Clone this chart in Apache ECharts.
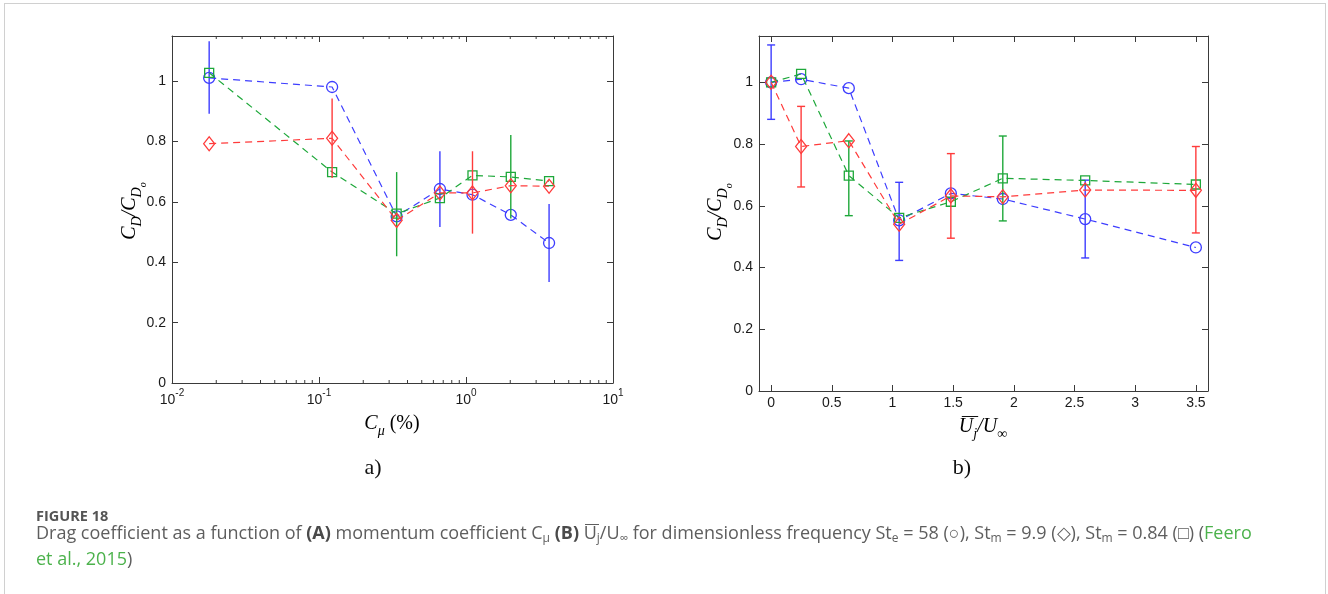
<!DOCTYPE html>
<html><head><meta charset="utf-8">
<script src="https://cdn.jsdelivr.net/npm/echarts@6/dist/echarts.min.js"></script>
<style>
html,body{margin:0;padding:0;background:#fff;}
#wrap{position:relative;width:1328px;height:594px;overflow:hidden;}
#frame{position:absolute;left:4px;top:3px;width:1322px;height:660px;border:1px solid #d0d0d0;box-sizing:border-box;}
#chart{position:absolute;left:0;top:0;width:1328px;height:594px;}
.cap{position:absolute;left:36px;font-family:'Open Sans',sans-serif;color:#5e5e5e;white-space:nowrap;}
.cap sub{font-size:12px;line-height:0;vertical-align:-3px;}
.cap b{color:#4a4a4a;}
.g{color:#4cb24c;}
.ov{position:relative;}
.ov::before{content:'';position:absolute;left:1px;right:1px;top:4px;border-top:1px solid #5e5e5e;}
</style></head>
<body>
<div id="wrap">
<div id="frame"></div>
<div id="chart"></div>
<div class="cap" id="fig" style="top:507px;font-size:14.5px;line-height:17px;font-weight:700;color:#555;">FIGURE 18</div>
<div class="cap" id="capt" style="top:519px;font-size:18px;line-height:26px;">Drag coefficient as a function of <b>(A)</b> momentum coefficient C<sub>μ</sub> <b>(B)</b> <span class="ov">U<sub>j</sub></span>/U<sub>∞</sub> for dimensionless frequency St<sub>e</sub> = 58 (○), St<sub>m</sub> = 9.9 (◇), St<sub>m</sub> = 0.84 (□) (<span class="g">Feero</span><br><span class="g">et al., 2015</span>)</div>
</div>
<script>
// ---------- Panel (a): C_mu (%) on log axis ----------
const cmuX   = [0.0179, 0.1228, 0.3375, 0.6645, 1.107, 2.017, 3.674];
const aBlue  = [1.011, 0.981, 0.552, 0.643, 0.624, 0.557, 0.464];
const aRed   = [0.793, 0.811, 0.539, 0.630, 0.630, 0.654, 0.652];
const aGreen = [1.028, 0.699, 0.561, 0.613, 0.688, 0.683, 0.669];
// error bars: [x, low, high]
const aBlueErr  = [[0.0179, 0.892, 1.133], [0.6645, 0.517, 0.768], [3.674, 0.335, 0.593]];
const aRedErr   = [[0.1228, 0.679, 0.943], [1.107, 0.495, 0.768]];
const aGreenErr = [[0.3375, 0.420, 0.699], [2.017, 0.545, 0.822]];
const aMinorTicks = [0.02,0.03,0.04,0.05,0.06,0.07,0.08,0.09,0.2,0.3,0.4,0.5,0.6,0.7,0.8,0.9,2,3,4,5,6,7,8,9];

// ---------- Panel (b): Uj/Uinf ----------
const ujX    = [0, 0.247, 0.640, 1.055, 1.481, 1.909, 2.588, 3.5];
const bBlue  = [1.0, 1.010, 0.981, 0.553, 0.640, 0.622, 0.557, 0.465];
const bRed   = [1.0, 0.792, 0.811, 0.540, 0.632, 0.629, 0.651, 0.650];
const bGreen = [1.0, 1.027, 0.698, 0.561, 0.613, 0.689, 0.682, 0.669];
const bBlueErr  = [[0, 0.880, 1.121], [1.055, 0.423, 0.676], [2.588, 0.431, 0.683]];
const bRedErr   = [[0.247, 0.661, 0.922], [1.481, 0.495, 0.769], [3.5, 0.512, 0.792]];
const bGreenErr = [[0.640, 0.568, 0.810], [1.909, 0.551, 0.826]];
const ujTicks = [0, 0.5, 1, 1.5, 2, 2.5, 3, 3.5];
const yTicksMax = 1.15;

const BLUE = '#3d3dff', RED = '#ff3b3b', GREEN = '#1ea83a';
const AX = '#3a3a3a';
const TF = 'Liberation Sans, Arial, sans-serif';
const SERIF = 'Liberation Serif, Times New Roman, serif';

const chart = echarts.init(document.getElementById('chart'), null, {renderer: 'canvas'});

function yAx(grid, pos, showLabel) {
  return {
    gridIndex: grid, type: 'value', min: 0, max: yTicksMax, interval: 0.2, position: pos,
    axisLine: {show: true, onZero: false, lineStyle: {color: AX, width: 1}},
    axisTick: {show: true, inside: true, length: 6, lineStyle: {color: AX}},
    axisLabel: {show: showLabel, margin: 6, showMaxLabel: false, fontFamily: TF, fontSize: 14, color: '#1a1a1a',
      formatter: v => String(+v.toFixed(2))},
    splitLine: {show: false}
  };
}
function lineSeries(xs, ys, color, symbol, size, xi, yi, z) {
  return {
    type: 'line', xAxisIndex: xi, yAxisIndex: yi, z: z,
    data: xs.map((x, i) => [x, ys[i]]),
    symbol: symbol, symbolSize: size, showAllSymbol: true,
    lineStyle: {color: color, width: 1.2, type: [7, 5]},
    itemStyle: {color: 'rgba(0,0,0,0)', borderColor: color, borderWidth: 1.3},
    emphasis: {disabled: true}, silent: true, animation: false
  };
}
function errSeries(data, color, xi, yi, z, cap) {
  return {
    type: 'custom', xAxisIndex: xi, yAxisIndex: yi, z: z, silent: true, animation: false,
    data: data, encode: {x: 0, y: [1, 2]},
    renderItem: function (params, api) {
      const x = api.value(0), lo = api.value(1), hi = api.value(2);
      const p1 = api.coord([x, lo]), p2 = api.coord([x, hi]);
      const st = {stroke: color, lineWidth: 1.4};
      const ch = [{type: 'line', shape: {x1: p1[0], y1: p1[1], x2: p2[0], y2: p2[1]}, style: st}];
      if (cap) {
        ch.push({type: 'line', shape: {x1: p1[0] - cap, y1: p1[1], x2: p1[0] + cap, y2: p1[1]}, style: st});
        ch.push({type: 'line', shape: {x1: p2[0] - cap, y1: p2[1], x2: p2[0] + cap, y2: p2[1]}, style: st});
      }
      return {type: 'group', children: ch};
    }
  };
}

const supRich = {
  b: {fontFamily: TF, fontSize: 14, color: '#1a1a1a', lineHeight: 26, verticalAlign: 'top', padding: [6, 0, 0, 0]},
  s: {fontFamily: TF, fontSize: 10, color: '#1a1a1a', lineHeight: 14, verticalAlign: 'top', padding: [1, 0, 0, 0]}
};

const mathRich = {
  c: {fontFamily: SERIF, fontStyle: 'italic', fontSize: 20, color: '#111', lineHeight: 22, verticalAlign: 'top'},
  r: {fontFamily: SERIF, fontSize: 20, color: '#111', lineHeight: 22, verticalAlign: 'top'},
  d: {fontFamily: SERIF, fontStyle: 'italic', fontSize: 14, color: '#111', lineHeight: 16, verticalAlign: 'top', padding: [10, 0, 0, 0]},
  u: {fontFamily: SERIF, fontSize: 14, color: '#111', lineHeight: 16, verticalAlign: 'top', padding: [10, 0, 0, 0]},
  o: {fontFamily: SERIF, fontStyle: 'italic', fontSize: 10, color: '#111', lineHeight: 12, verticalAlign: 'top', padding: [18, 0, 0, 0]}
};

// overline position for U_j
function tw(t, f) { const c = document.createElement('canvas').getContext('2d'); c.font = f; return c.measureText(t).width; }
const wU = tw('U', 'italic 20px "Liberation Serif"');
const wj = tw('j', 'italic 14px "Liberation Serif"');
const wSl = tw('/U', 'italic 20px "Liberation Serif"');
const wInf = tw('∞', '14px "Liberation Serif"');
const bCx = 983, tot = wU + wj + wSl + wInf, bStart = bCx - tot / 2;

const option = {
  animation: false,
  grid: [
    {left: 172, top: 36, width: 441, height: 347},
    {left: 759, top: 36, width: 449, height: 355}
  ],
  xAxis: [
    {gridIndex: 0, type: 'log', logBase: 10, min: 0.01, max: 10, position: 'bottom',
      axisLine: {show: true, onZero: false, lineStyle: {color: AX}},
      axisTick: {show: true, inside: true, length: 6, lineStyle: {color: AX}},
      axisLabel: {margin: 4, formatter: v => '{b|10}{s|' + Math.round(Math.log10(v)) + '}', rich: supRich},
      splitLine: {show: false}, minorTick: {show: false}},
    {gridIndex: 0, type: 'log', logBase: 10, min: 0.01, max: 10, position: 'top',
      axisLine: {show: true, onZero: false, lineStyle: {color: AX}},
      axisTick: {show: true, inside: true, length: 6, lineStyle: {color: AX}},
      axisLabel: {show: false}, splitLine: {show: false}},
    {gridIndex: 1, type: 'value', min: -0.1, max: 3.6, position: 'bottom',
      axisLine: {show: true, onZero: false, lineStyle: {color: AX}},
      axisTick: {show: true, inside: true, length: 6, lineStyle: {color: AX}, customValues: ujTicks},
      axisLabel: {margin: 5, fontFamily: TF, fontSize: 14, color: '#1a1a1a', customValues: ujTicks},
      splitLine: {show: false}},
    {gridIndex: 1, type: 'value', min: -0.1, max: 3.6, position: 'top',
      axisLine: {show: true, onZero: false, lineStyle: {color: AX}},
      axisTick: {show: true, inside: true, length: 6, lineStyle: {color: AX}, customValues: ujTicks},
      axisLabel: {show: false}, splitLine: {show: false}}
  ],
  yAxis: [yAx(0, 'left', true), yAx(0, 'right', false), yAx(1, 'left', true), yAx(1, 'right', false)],
  series: [
    // minor ticks of the log axis
    {type: 'custom', xAxisIndex: 0, yAxisIndex: 0, silent: true, animation: false, z: 1,
      data: aMinorTicks.map(v => [v, 0]), encode: {x: 0, y: 1},
      renderItem: function (params, api) {
        const v = api.value(0);
        const b = api.coord([v, 0]), t = api.coord([v, yTicksMax]);
        const st = {stroke: AX, lineWidth: 1};
        return {type: 'group', children: [
          {type: 'line', shape: {x1: b[0], y1: b[1], x2: b[0], y2: b[1] - 3}, style: st},
          {type: 'line', shape: {x1: t[0], y1: t[1], x2: t[0], y2: t[1] + 3}, style: st}
        ]};
      }},
    errSeries(aBlueErr, BLUE, 0, 0, 2, 0),
    lineSeries(cmuX, aBlue, BLUE, 'circle', 11, 0, 0, 2),
    errSeries(aGreenErr, GREEN, 0, 0, 3, 0),
    lineSeries(cmuX, aGreen, GREEN, 'rect', 9, 0, 0, 3),
    errSeries(aRedErr, RED, 0, 0, 4, 0),
    lineSeries(cmuX, aRed, RED, 'diamond', [11, 14], 0, 0, 4),

    errSeries(bBlueErr, BLUE, 2, 2, 2, 4),
    lineSeries(ujX, bBlue, BLUE, 'circle', 11, 2, 2, 2),
    errSeries(bGreenErr, GREEN, 2, 2, 3, 4),
    lineSeries(ujX, bGreen, GREEN, 'rect', 9, 2, 2, 3),
    errSeries(bRedErr, RED, 2, 2, 4, 4),
    lineSeries(ujX, bRed, RED, 'diamond', [11, 14], 2, 2, 4)
  ],
  graphic: [
    {type: 'text', x: 120, y: 211, rotation: Math.PI / 2, silent: true,
      style: {text: '{c|C}{d|D}{c|/C}{d|D}{o|o}', rich: mathRich, align: 'center', verticalAlign: 'top'}},
    {type: 'text', x: 706, y: 212, rotation: Math.PI / 2, silent: true,
      style: {text: '{c|C}{d|D}{c|/C}{d|D}{o|o}', rich: mathRich, align: 'center', verticalAlign: 'top'}},
    {type: 'text', x: 392, y: 414, silent: true,
      style: {text: '{c|C}{d|μ}{r| (%)}', rich: mathRich, align: 'center', verticalAlign: 'top'}},
    {type: 'text', x: bCx, y: 417, silent: true,
      style: {text: '{c|U}{d|j}{c|/U}{u|∞}', rich: mathRich, align: 'center', verticalAlign: 'top'}},
    {type: 'line', silent: true, shape: {x1: bStart + 3, y1: 416.5, x2: bStart + wU + wj + 1, y2: 416.5},
      style: {stroke: '#111', lineWidth: 1}},
    {type: 'text', x: 373, y: 468, silent: true,
      style: {text: 'a)', fontFamily: SERIF, fontSize: 22, fill: '#111', align: 'center', verticalAlign: 'middle'}},
    {type: 'text', x: 962, y: 468, silent: true,
      style: {text: 'b)', fontFamily: SERIF, fontSize: 22, fill: '#111', align: 'center', verticalAlign: 'middle'}}
  ]
};
chart.setOption(option);
</script>
</body></html>
